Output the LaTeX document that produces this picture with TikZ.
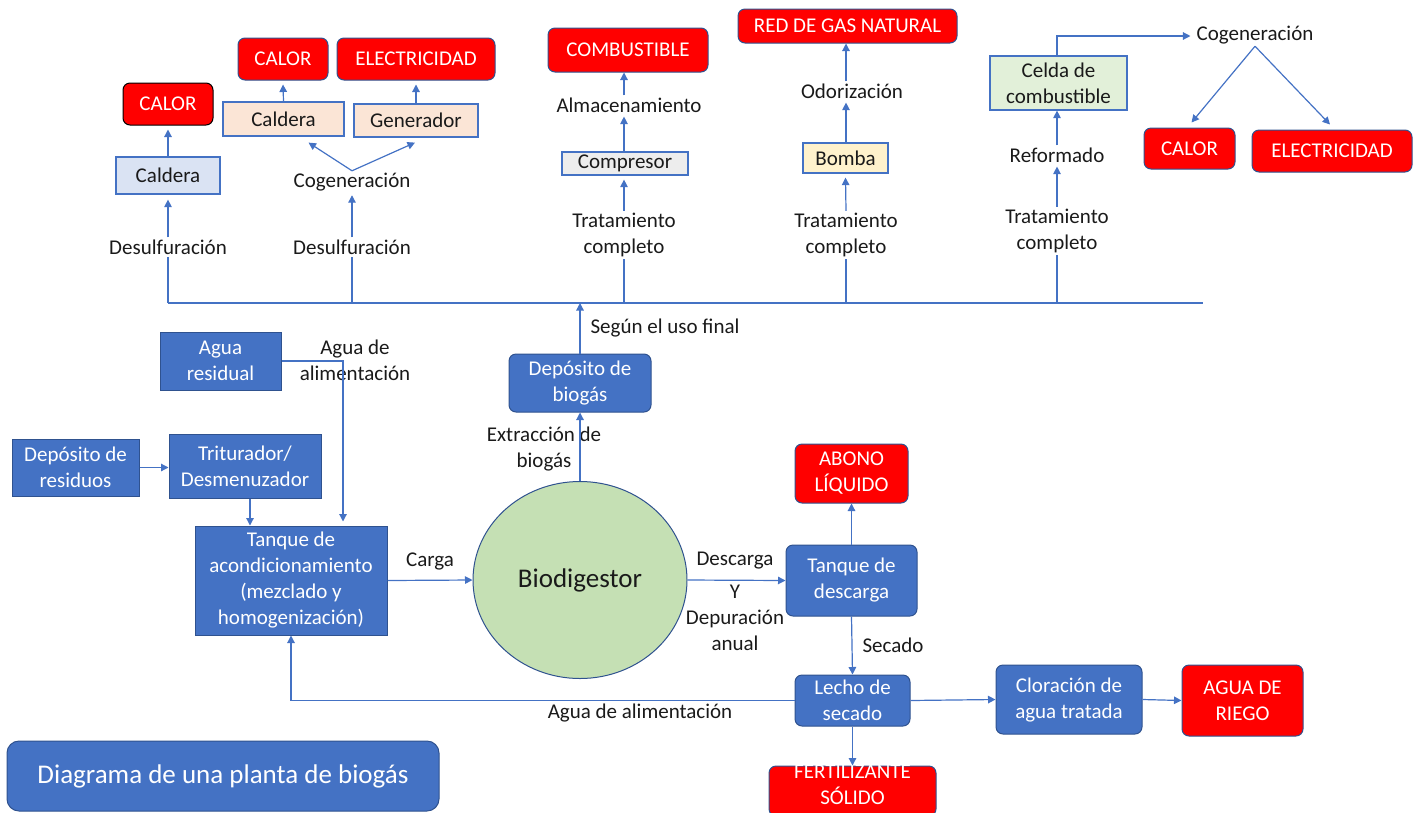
\documentclass[tikz,border=0pt]{standalone}
\usepackage{fontspec}
\setmainfont{Carlito}
\usetikzlibrary{shapes.geometric,arrows.meta,calc}
\definecolor{bl}{HTML}{4472C4}
\definecolor{bd}{HTML}{2F528F}
\definecolor{rd}{HTML}{FF0000}
\definecolor{lblue}{HTML}{DAE3F3}
\definecolor{peach}{HTML}{FBE5D6}
\definecolor{lgray}{HTML}{EDEDED}
\definecolor{lyel}{HTML}{FFF2CC}
\definecolor{lgreen}{HTML}{E2F0D9}
\definecolor{bio}{HTML}{C5E0B4}
\definecolor{tx}{HTML}{1A1A1A}
\begin{document}
\begin{tikzpicture}[x=1pt,y=-1pt,
  every node/.style={font=\fontsize{21}{26}\selectfont, align=center, inner sep=2pt, text=tx},
  conn/.style={draw=bl, line width=1.2pt},
  arr/.style={conn, -{Triangle[length=7.5pt,width=7.5pt]}},
  bluebox/.style={fill=bl, draw=bd, line width=1pt, text=white, inner sep=0pt},
  roundblue/.style={bluebox, rounded corners=7pt},
  redbox/.style={fill=rd, draw=bd, line width=1pt, text=white, rounded corners=7pt, inner sep=0pt},
  lightbox/.style={draw=bl, line width=1.2pt, inner sep=0pt}
]
\useasboundingbox (0,0) rectangle (1418,812);

% ---------- top section ----------
\coordinate (busL) at (168,303);
\coordinate (busR) at (1203,303);

\node[redbox, draw=black, minimum width=90, minimum height=42] (calorA) at (168,104) {CALOR};
\node[lightbox, fill=lblue, minimum width=104, minimum height=37] (calderaA) at (168,175.5) {Caldera};
\node (desA) at (168,247) {Desulfuración};

\node[redbox, minimum width=90, minimum height=42] (calorB) at (283,59) {CALOR};
\node[redbox, minimum width=158, minimum height=42] (elecB) at (416,59) {ELECTRICIDAD};
\node[lightbox, fill=peach, minimum width=121, minimum height=34] (calderaB) at (283.5,119) {Caldera};
\node[lightbox, fill=peach, minimum width=124, minimum height=33] (genB) at (416,120.5) {Generador};
\node (cogB) at (352,182) {Cogeneración};
\node (desB) at (352,247) {Desulfuración};

\node[redbox, minimum width=160, minimum height=44] (comb) at (628,50) {COMBUSTIBLE};
\node (almac) at (629,105) {Almacenamiento};
\node[lightbox, fill=lgray, minimum width=126, minimum height=23] (compr) at (625,163.5) {Compresor};
\node (tratA) at (624,235) {Tratamiento\\completo};

\node[redbox, minimum width=219, minimum height=34] (gas) at (847.5,26) {RED DE GAS NATURAL};
\node (odor) at (852,91) {Odorización};
\node[lightbox, fill=lyel, minimum width=85, minimum height=30] (bomba) at (845.5,158) {Bomba};
\node (tratB) at (846,235) {Tratamiento\\completo};

\node[lightbox, fill=lgreen, minimum width=137, minimum height=54] (celda) at (1058.5,83) {Celda de\\combustible};
\node (reform) at (1057,155) {Reformado};
\node (tratC) at (1057,231) {Tratamiento\\completo};
\node (cogC) at (1255,35) {Cogeneración};
\node[redbox, minimum width=91, minimum height=41] (calorC) at (1189.5,148.5) {CALOR};
\node[redbox, minimum width=160, minimum height=42] (elecC) at (1332,151) {ELECTRICIDAD};

% ---------- middle / bottom ----------
\node[bluebox, minimum width=121, minimum height=58] (aguaRes) at (220.5,361) {Agua\\residual};
\node (aguaAlimA) at (355,360) {Agua de\\alimentación};
\node[bluebox, minimum width=127, minimum height=57] (depRes) at (75.5,467.5) {Depósito de\\residuos};
\node[bluebox, minimum width=152, minimum height=64] (trit) at (245,466) {Triturador/\\Desmenuzador};
\node[bluebox, minimum width=192, minimum height=109] (tanqueA) at (291,580.5) {Tanque de\\acondicionamiento\\(mezclado y\\homogenización)};
\node (carga) at (430,561) {Carga};
\node[ellipse, fill=bio, draw=bd, line width=1pt, minimum width=214, minimum height=197, inner sep=0pt, font=\fontsize{27}{32}\selectfont] (bio) at (580,580) {Biodigestor};
\node[roundblue, minimum width=142, minimum height=58] (depBio) at (580,383) {Depósito de\\biogás};
\node (extr) at (544,449) {Extracción de\\biogás};
\node (segun) at (665,328) {Según el uso final};
\node (desc) at (735,561) {Descarga};
\node (depur) at (735,618) {Y\\Depuración\\anual};
\node[roundblue, minimum width=131, minimum height=71] (tanqueD) at (851.5,580.5) {Tanque de\\descarga};
\node[redbox, minimum width=113, minimum height=59] (abono) at (851.5,473.5) {ABONO\\LÍQUIDO};
\node (secado) at (893,645) {Secado};
\node[roundblue, minimum width=115, minimum height=51] (lecho) at (852.5,700.5) {Lecho de\\secado};
\node[redbox, minimum width=167, minimum height=50] (fert) at (852.5,791) {};
\node[text=white] (fertT) at (852.5,785) {FERTILIZANTE\\SÓLIDO};
\node[roundblue, minimum width=146, minimum height=69] (clor) at (1069,699.5) {Cloración de\\agua tratada};
\node[redbox, minimum width=121, minimum height=71] (riego) at (1242.5,700.5) {AGUA DE\\RIEGO};
\node (aguaAlimB) at (640,713) {Agua de alimentación};
\node[roundblue, rounded corners=12pt, minimum width=432, minimum height=70, font=\fontsize{27}{32}\selectfont] (title) at (223,776) {Diagrama de una planta de biogás};

% ---------- helper coordinates ----------
\coordinate (almN) at ($(almac.north)+(-5,0)$);
\coordinate (almS) at ($(almac.south)+(-5,2)$);
\coordinate (comN) at ($(compr.north)+(-1,0)$);
\coordinate (bomN) at ($(bomba.north)+(0.5,0)$);
\coordinate (odoN) at ($(odor.north)+(-6,0)$);
\coordinate (odoS) at ($(odor.south)+(-6,2)$);
\coordinate (celN) at ($(celda.north)+(-1.5,0)$);
\coordinate (cogW) at ($(cogC.west)+(-4,1)$);
\coordinate (triS) at ($(trit.south)+(5,0)$);
\coordinate (tanN) at ($(tanqueA.north)+(52,-4)$);

% ---------- connectors ----------
\draw[conn] (busL) -- (busR);

\draw[conn] (desA.south |- busL) -- (desA.south);
\draw[arr] (desA.north) -- ($(calderaA.south)+(0,5)$);
\draw[arr] (calderaA.north) -- ($(calorA.south)+(0,4)$);

\draw[conn] (desB.south |- busL) -- (desB.south);
\draw[arr] (desB.north) -- ($(cogB.south)+(0,2)$);
\draw[arr] (cogB.north) -- ($(calderaB.south)+(25,6)$);
\draw[arr] (cogB.north) -- ($(genB.south)+(-1,5)$);
\draw[arr] (calderaB.north) -- ($(calorB.south)+(0,4)$);
\draw[arr] (genB.north) -- ($(elecB.south)+(0,4)$);

\draw[conn] (tratA.south |- busL) -- (tratA.south);
\draw[arr] (tratA.north) -- ($(compr.south)+(-1,4)$);
\draw[arr] (comN) -- (almS);
\draw[arr] (almN) -- (almN |- comb.south);

\draw[conn] (tratB.south |- busL) -- (tratB.south);
\draw[arr] (tratB.north) -- ($(bomba.south)+(0,4)$);
\draw[arr] (bomN) -- (odoS);
\draw[arr] (odoN) -- (odoN |- gas.south);

\draw[conn] (tratC.south |- busL) -- (tratC.south);
\draw[arr] (tratC.north) -- ($(reform.south)+(0,2)$);
\draw[arr] (reform.north) -- (reform.north |- celda.south);
\draw[arr] (celN) |- (cogW);
\draw[arr] (cogC.south) -- ($(calorC.north)+(2,-5)$);
\draw[arr] (cogC.south) -- ($(elecC.north)+(-2,-5)$);

\draw[arr] (aguaRes.east) -| (tanN);
\draw[arr] (depRes.east) -- (trit.west |- depRes.east);
\draw[arr] (triS) -- (triS |- tanqueA.north);
\draw[arr] (tanqueA.east) -- (bio.west);
\draw[arr] (bio.north) -- (depBio.south);
\draw[arr] (depBio.north) -- (depBio.north |- busL);
\draw[arr] (bio.east) -- (tanqueD.west);
\draw[arr] (tanqueD.north) -- (abono.south);
\draw[arr] (tanqueD.south) -- (lecho.north);
\draw[arr] (lecho.south) -- (fert.north);
\draw[arr] (lecho.east) -- (clor.west);
\draw[arr] (clor.east) -- (riego.west);
\draw[arr] (lecho.west) -| (tanqueA.south);
\end{tikzpicture}
\end{document}
